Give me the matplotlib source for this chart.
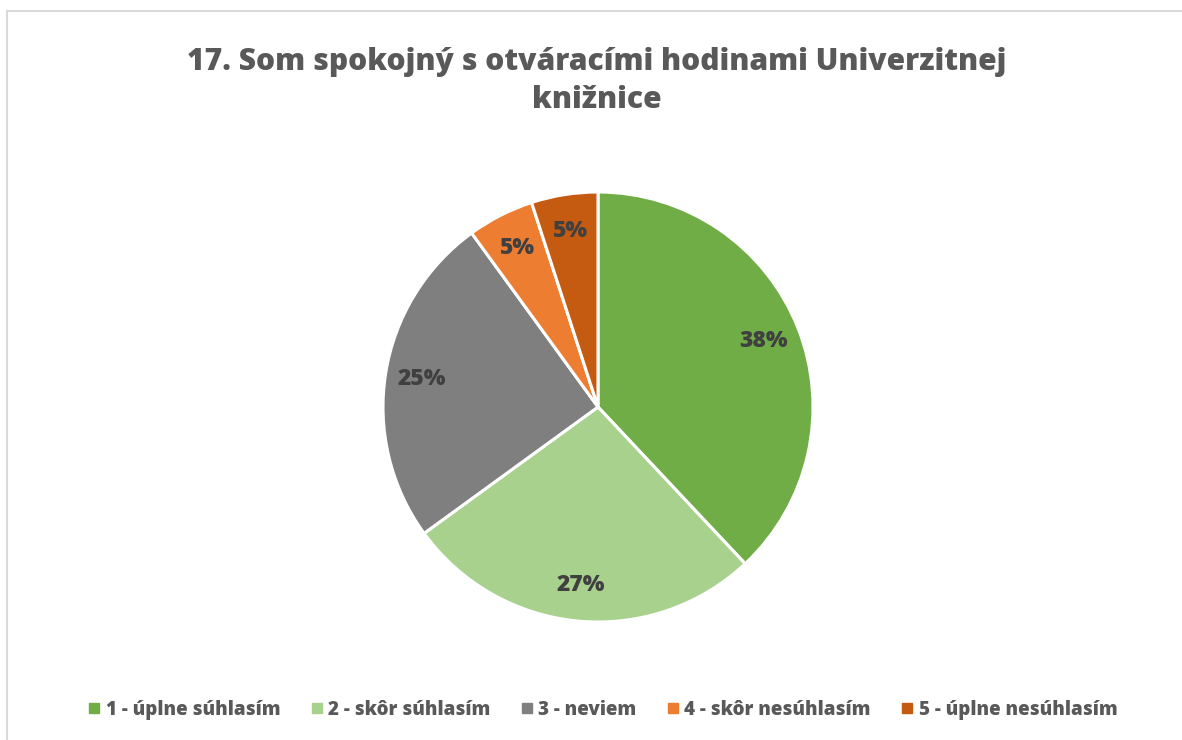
import matplotlib
matplotlib.use('Agg')
import matplotlib.pyplot as plt
from matplotlib.lines import Line2D

plt.rcParams['font.family'] = ['Open Sans', 'DejaVu Sans']

# data
categories = ['1 - úplne súhlasím', '2 - skôr súhlasím', '3 - neviem',
              '4 - skôr nesúhlasím', '5 - úplne nesúhlasím']
shares = [38, 27, 25, 5, 5]
colors = ['#70AD47', '#A9D18E', '#7F7F7F', '#ED7D31', '#C55A11']
title = '17. Som spokojný s otváracími hodinami Univerzitnej\nknižnice'

W, H = 1182, 740
fig = plt.figure(figsize=(W / 100, H / 100), dpi=100)

# chart frame (light gray border, cut at right/bottom like the screenshot)
fig.add_artist(Line2D([7 / W, 1], [1 - 11 / H] * 2, color='#D9D9D9', lw=1.5))
fig.add_artist(Line2D([7 / W] * 2, [0, 1 - 11 / H], color='#D9D9D9', lw=1.5))

cx, cy, r = 598, H - 407, 215
ax = fig.add_axes([(cx - r) / W, (cy - r) / H, 2 * r / W, 2 * r / H])
wedges, texts = ax.pie(shares, colors=colors, startangle=90, counterclock=False,
                       radius=1, labels=[f'{v}%' for v in shares], labeldistance=0.83,
                       wedgeprops=dict(edgecolor='white', linewidth=2.2),
                       textprops=dict(fontsize=16.5, fontweight=800, color='#404040',
                                      ha='center', va='center'))
ax.set_xlim(-1, 1)
ax.set_ylim(-1, 1)
ax.set_aspect('equal')
ax.axis('off')

fig.text(597 / W, 1 - 81 / H, title, ha='center', va='center', fontsize=21.6,
         fontweight=800, color='#595959', linespacing=1.38)

handles = [Line2D([], [], marker='s', linestyle='none', markersize=7,
                  markerfacecolor=c, markeredgecolor=c) for c in colors]
fig.legend(handles, categories, loc='center', bbox_to_anchor=(603 / W, 1 - 710 / H),
           ncol=5, frameon=False, handlelength=0.6, handletextpad=0.3,
           columnspacing=1.65, prop=dict(size=13.5, weight=800),
           labelcolor='#595959')

fig.savefig('out.png', dpi=100)
